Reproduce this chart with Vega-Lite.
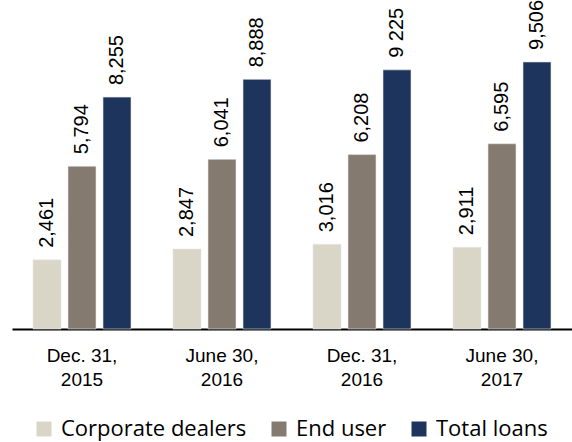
{
  "$schema": "https://vega.github.io/schema/vega-lite/v6.json",
  "autosize": "none",
  "width": 560,
  "height": 309,
  "padding": {"left": 12, "top": 20, "right": 0, "bottom": 113},
  "background": "white",
  "config": {"view": {"stroke": null}},
  "data": {"values": [
    {"period": "Dec. 31, 2015", "series": "Corporate dealers", "value": 2461, "label": "2,461"},
    {"period": "Dec. 31, 2015", "series": "End user", "value": 5794, "label": "5,794"},
    {"period": "Dec. 31, 2015", "series": "Total loans", "value": 8255, "label": "8,255"},
    {"period": "June 30, 2016", "series": "Corporate dealers", "value": 2847, "label": "2,847"},
    {"period": "June 30, 2016", "series": "End user", "value": 6041, "label": "6,041"},
    {"period": "June 30, 2016", "series": "Total loans", "value": 8888, "label": "8,888"},
    {"period": "Dec. 31, 2016", "series": "Corporate dealers", "value": 3016, "label": "3,016"},
    {"period": "Dec. 31, 2016", "series": "End user", "value": 6208, "label": "6,208"},
    {"period": "Dec. 31, 2016", "series": "Total loans", "value": 9225, "label": "9 225"},
    {"period": "June 30, 2017", "series": "Corporate dealers", "value": 2911, "label": "2,911"},
    {"period": "June 30, 2017", "series": "End user", "value": 6595, "label": "6,595"},
    {"period": "June 30, 2017", "series": "Total loans", "value": 9506, "label": "9,506"}
  ]},
  "encoding": {
    "x": {
      "field": "period", "type": "nominal", "sort": null,
      "scale": {"paddingInner": 0.3, "paddingOuter": 0.15},
      "axis": {
        "title": null, "labelAngle": 0, "ticks": false,
        "domainColor": "black", "domainWidth": 2,
        "labelFont": "Liberation Sans", "labelFontSize": 19, "labelColor": "black",
        "labelLineHeight": 24, "labelPadding": 17,
        "labelExpr": "[slice(datum.value, 0, -5), slice(datum.value, -4)]"
      }
    },
    "xOffset": {"field": "series", "type": "nominal", "sort": null, "scale": {"paddingInner": 0.2, "paddingOuter": 0}},
    "y": {"field": "value", "type": "quantitative", "scale": {"domain": [0, 11000]}, "axis": null}
  },
  "layer": [
    {
      "mark": {"type": "bar", "stroke": "#e8e8e8", "strokeWidth": 0.6},
      "encoding": {
        "color": {
          "field": "series", "type": "nominal", "sort": null,
          "scale": {"domain": ["Corporate dealers", "End user", "Total loans"], "range": ["#D9D6C7", "#857A70", "#1D355C"]},
          "legend": {
            "title": null, "orient": "none", "direction": "horizontal",
            "legendX": 21, "legendY": 398, "padding": 0,
            "symbolType": "square", "symbolSize": 225, "symbolStrokeWidth": 0,
            "labelFont": "Open Sans", "labelFontSize": 22, "labelColor": "black",
            "labelOffset": 6, "columnPadding": 21, "labelLimit": 400
          }
        }
      }
    },
    {
      "mark": {"type": "text", "angle": 270, "align": "left", "baseline": "middle", "dx": 12, "font": "Liberation Sans", "fontSize": 20, "color": "black"},
      "encoding": {"text": {"field": "label"}}
    }
  ]
}
